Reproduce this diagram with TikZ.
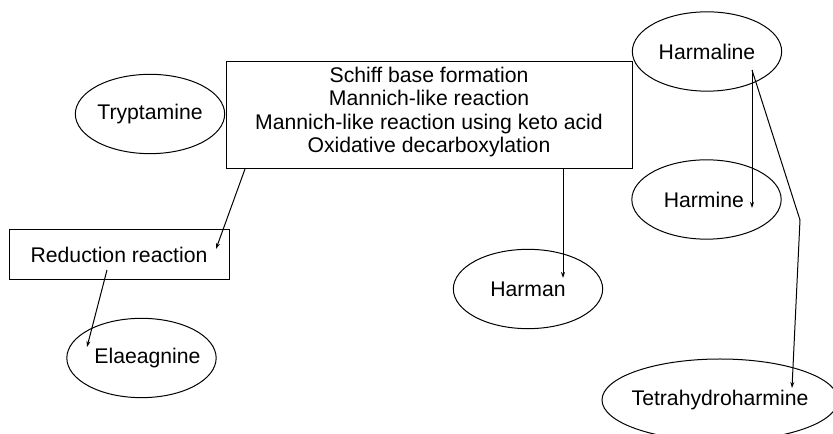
\documentclass[tikz,border=0pt]{standalone}
\usepackage{fontspec}
\setmainfont{Liberation Sans}
\usetikzlibrary{shapes.geometric,arrows.meta}
\newcommand{\ctx}[1]{\makebox[0pt][c]{#1}}
\begin{document}
\begin{tikzpicture}[x=0.75pt,y=-0.75pt,
  every node/.style={font=\fontsize{15.9}{17.6}\selectfont},
  ell/.style={draw, ellipse, line width=0.75pt, inner sep=0pt, minimum width=112pt, minimum height=59.5pt},
  boxn/.style={draw, rectangle, line width=0.75pt, inner sep=0pt, align=center},
  arr/.style={line width=0.75pt, -{Stealth[length=4.5pt,width=3pt]}}]
\useasboundingbox (0,0) rectangle (833,434);
% nodes
\node[ell] (tryp) at (150,114) {\ctx{Tryptamine}};
\node[boxn, minimum width=304.5pt, minimum height=80.25pt] (main) at (429,115.5)
  {Schiff base formation\\Mannich-like reaction\\Mannich-like reaction using keto acid\\Oxidative decarboxylation\\[-9pt]};
\node[ell] (harmaline) at (707,51.5) {\ctx{Harmaline}};
\node[ell] (harmine) at (706.5,199.5) {\ctx{\hspace{-4pt}Harmine}};
\node[boxn, minimum width=165pt, minimum height=37.5pt] (red) at (119,255) {Reduction reaction};
\node[ell] (harman) at (528,289) {\ctx{Harman}};
\node[ell] (elae) at (141.5,358) {\ctx{\hspace{9pt}Elaeagnine}};
\node[ell, minimum width=177pt, minimum height=61.5pt] (thh) at (720,400) {\ctx{Tetrahydroharmine}};
% connector end points
\coordinate (m2r) at (245,169);
\coordinate (rin) at (216,249);
\coordinate (r2e) at (107,270);
\coordinate (ein) at (87,347);
\coordinate (m2h) at (563,169);
\coordinate (hin) at (563,278);
\coordinate (hl) at (752,70);
\coordinate (hmin) at (752,208);
\coordinate (bend) at (800,220);
\coordinate (tin) at (792,388);
% connectors
\draw[arr] (m2r) -- (rin);
\draw[arr] (r2e) -- (ein);
\draw[arr] (m2h) -- (hin);
\draw[arr] (hl) -- (hmin);
\draw[arr] (hl) -- (bend) -- (tin);
\end{tikzpicture}
\end{document}
